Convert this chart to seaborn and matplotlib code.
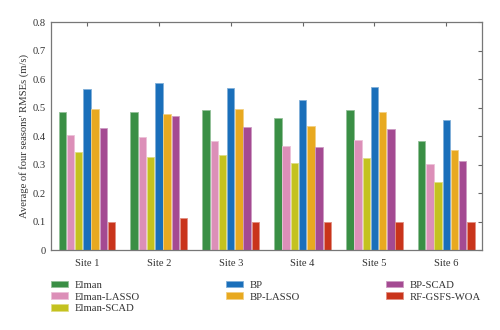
import matplotlib
matplotlib.use("Agg")
import matplotlib.pyplot as plt
import matplotlib.colors as mcolors
import seaborn as sns
import pandas as pd
import numpy as np

sites = ["Site 1", "Site 2", "Site 3", "Site 4", "Site 5", "Site 6"]
models = ["Elman", "Elman-LASSO", "Elman-SCAD", "BP", "BP-LASSO", "BP-SCAD", "RF-GSFS-WOA"]
elman       = [0.486, 0.486, 0.491, 0.464, 0.491, 0.384]
elman_lasso = [0.405, 0.396, 0.385, 0.366, 0.388, 0.302]
elman_scad  = [0.344, 0.329, 0.335, 0.308, 0.325, 0.241]
bp          = [0.564, 0.586, 0.570, 0.527, 0.571, 0.456]
bp_lasso    = [0.495, 0.479, 0.495, 0.437, 0.484, 0.352]
bp_scad     = [0.428, 0.470, 0.432, 0.364, 0.426, 0.314]
rf_gsfs_woa = [0.100, 0.114, 0.100, 0.100, 0.100, 0.100]
colors = ["#3a8f45", "#dc8fb8", "#c4c21f", "#1a6fba", "#e8a920", "#a44a92", "#c9341b"]

series = [elman, elman_lasso, elman_scad, bp, bp_lasso, bp_scad, rf_gsfs_woa]
rows = []
for m, vals in zip(models, series):
    for s, v in zip(sites, vals):
        rows.append({"Site": s, "Model": m, "RMSE": v})
df = pd.DataFrame(rows)

sns.set_style("white")
plt.rcParams["font.family"] = ["Liberation Serif", "DejaVu Serif"]

fig = plt.figure(figsize=(5, 3.3), dpi=100)
ax = fig.add_axes([0.102, 0.241, 0.8626, 0.6923])

sns.barplot(data=df, x="Site", y="RMSE", hue="Model", order=sites, hue_order=models,
            palette=colors, saturation=1, ax=ax, gap=0.1, width=0.8, legend=True,
            errorbar=None)

for p in ax.patches:
    fc = np.array(mcolors.to_rgb(p.get_facecolor()))
    ec = fc + (1 - fc) * 0.45
    p.set_edgecolor(ec)
    p.set_linewidth(0.6)

ax.set_ylim(0, 0.8)
ax.set_xlim(-0.5, 5.5)
ax.set_yticks(np.arange(0, 0.81, 0.1))
ax.set_yticklabels(["0"] + [f"{v:.1f}" for v in np.arange(0.1, 0.81, 0.1)])
ax.set_xlabel("")
ax.set_ylabel("Average of four seasons' RMSEs (m/s)", fontsize=7.7, color="#333333",
              labelpad=2.5)
ax.tick_params(axis="both", direction="in", length=3, width=0.8, color="#666666",
               labelsize=7.6, labelcolor="#333333", top=True, right=True, pad=4)
ax.tick_params(axis="x", pad=6.5)
for sp in ax.spines.values():
    sp.set_visible(True)
    sp.set_color("#777777")
    sp.set_linewidth(0.9)

handles, labels = ax.get_legend_handles_labels()
ax.get_legend().remove()
fig.legend(handles, labels, ncol=3, loc="upper left", bbox_to_anchor=(0.102, 0.150),
           frameon=False, fontsize=7.7, handlelength=1.6, handleheight=0.6,
           handletextpad=0.65, columnspacing=8.0, labelspacing=0.25, borderaxespad=0,
           borderpad=0, labelcolor="#333333")

fig.savefig("out.png", dpi=100)
